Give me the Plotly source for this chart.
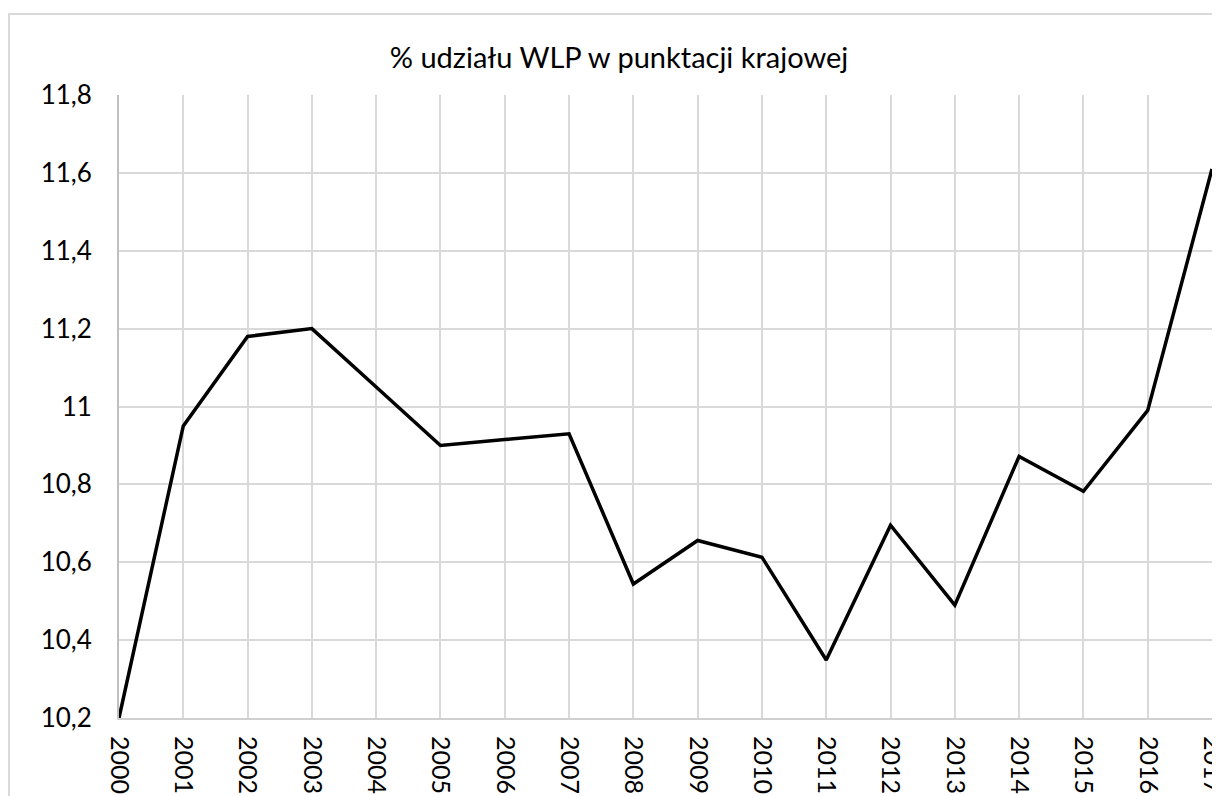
import plotly.graph_objects as go

years = [str(y) for y in range(2000, 2018)]
values = [10.2, 10.95, 11.18, 11.2, 11.05, 10.9, 10.915, 10.93, 10.544, 10.656,
          10.613, 10.349, 10.695, 10.49, 10.872, 10.782, 10.99, 11.61]
y_ticks = [10.2, 10.4, 10.6, 10.8, 11.0, 11.2, 11.4, 11.6, 11.8]
title_text = "% udziału WLP w punktacji krajowej"

# page body has an 8px margin; figure is sized to fill the rest of the window
OFF = 8
W, H = 1220 - OFF, 796 - OFF
L, R, T, B = 119 - OFF, 8, 95 - OFF, 78
pw, ph = W - L - R, H - T - B

fig = go.Figure(go.Scatter(x=years, y=values, mode="lines",
                           line=dict(color="black", width=3.5), hoverinfo="x+y"))

fig.update_layout(
    width=W, height=H,
    margin=dict(l=L, r=R, t=T, b=B, autoexpand=False),
    paper_bgcolor="white", plot_bgcolor="white",
    separators=",.",
    font=dict(family="Lato, Open Sans, sans-serif", size=26, color="black"),
    title=dict(text=title_text, x=(619 - OFF) / W, xref="container", xanchor="center",
               y=1 - (58 - OFF) / H, yref="container", yanchor="middle",
               font=dict(size=29, color="black")),
    showlegend=False,
    shapes=[dict(type="rect", xref="paper", yref="paper",
                 x0=(9 - OFF - L) / pw, x1=(1218 - OFF - L) / pw,
                 y0=(T + ph - 900) / ph, y1=(T + ph - (14 - OFF)) / ph,
                 line=dict(color="#d9d9d9", width=2), fillcolor="rgba(0,0,0,0)",
                 layer="below")],
)
fig.update_xaxes(type="category", range=[0, len(years) - 1], automargin=False,
                 showgrid=True, gridcolor="#d9d9d9", gridwidth=1.5,
                 showline=True, linecolor="#d0d0d0", linewidth=2,
                 tickangle=90, ticks="", ticklabelstandoff=11,
                 tickfont=dict(size=25))
fig.update_yaxes(range=[10.2, 11.8], tickvals=y_ticks, automargin=False,
                 showgrid=True, gridcolor="#d9d9d9", gridwidth=1.5,
                 showline=True, linecolor="#bfbfbf", linewidth=2,
                 zeroline=False, ticks="", ticklabelstandoff=20,
                 tickfont=dict(size=26))

fig.write_html("out.html")
